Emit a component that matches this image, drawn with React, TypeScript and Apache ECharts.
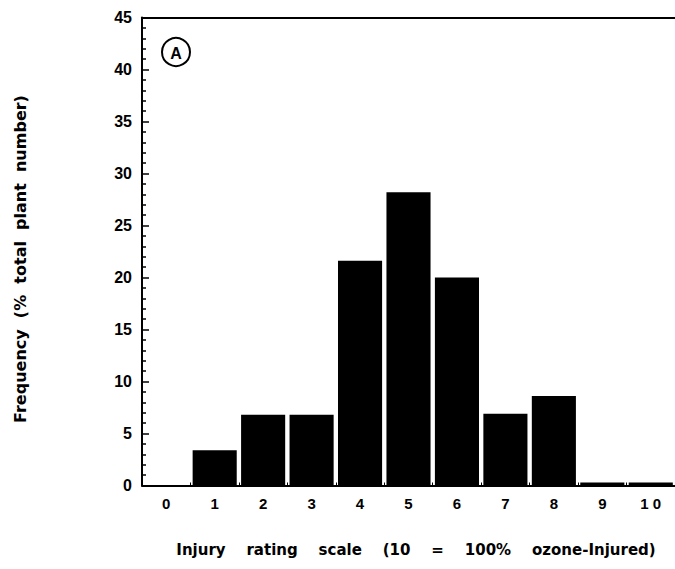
import React, { useEffect, useRef } from "react";
import * as echarts from "echarts";

const categories = ["0", "1", "2", "3", "4", "5", "6", "7", "8", "9", "1 0"];
const frequency = [0, 3.4, 6.8, 6.8, 21.6, 28.2, 20.0, 6.9, 8.6, 0.3, 0.3];
const yTicks = { min: 0, max: 45, interval: 5 };
const xTitle = "Injury    rating    scale    (10    =    100%    ozone-Injured)";
const yTitle = "Frequency  (%  total  plant  number)";
const panelLabel = "A";

const FONT = "'DejaVu Sans', Verdana, sans-serif";
const TICK_FONT = "'Liberation Sans', Arial, Helvetica, sans-serif";

export default function App() {
  const ref = useRef<HTMLDivElement>(null);
  useEffect(() => {
    if (!ref.current) return;
    const chart = echarts.init(ref.current, undefined, { renderer: "svg" });
    chart.setOption({
      animation: false,
      backgroundColor: "#ffffff",
      grid: { left: 142, right: -2, top: 17.5, bottom: 83.5, containLabel: false },
      xAxis: [
        {
          type: "category",
          data: categories,
          position: "bottom",
          axisLine: { show: true, lineStyle: { color: "#000", width: 2 } },
          axisTick: { show: true, inside: true, length: 3, lineStyle: { color: "#000" } },
          axisLabel: {
            color: "#000",
            fontFamily: TICK_FONT,
            fontWeight: "bold",
            fontSize: 15,
            margin: 10,
          },
          splitLine: { show: false },
        },
        {
          type: "category",
          data: categories,
          position: "top",
          axisLine: { show: true, lineStyle: { color: "#000", width: 2 } },
          axisTick: { show: false },
          axisLabel: { show: false },
          splitLine: { show: false },
        },
      ],
      yAxis: {
        type: "value",
        min: yTicks.min,
        max: yTicks.max,
        interval: yTicks.interval,
        axisLine: { show: true, lineStyle: { color: "#000", width: 2 } },
        axisTick: { show: true, inside: true, length: 7, lineStyle: { color: "#000", width: 1.5 } },
        minorTick: { show: true, splitNumber: 5, length: 4, lineStyle: { color: "#000", width: 1.5 } },
        axisLabel: {
          color: "#000",
          fontFamily: TICK_FONT,
          fontWeight: "bold",
          fontSize: 16,
          margin: 10,
        },
        splitLine: { show: false },
      },
      series: [
        {
          type: "bar",
          data: frequency,
          barCategoryGap: "9%",
          itemStyle: { color: "#000" },
        },
      ],
      graphic: [
        {
          type: "text",
          x: 416,
          y: 550,
          style: {
            text: xTitle,
            fill: "#000",
            font: `bold 15px ${FONT}`,
            align: "center",
            verticalAlign: "middle",
          },
        },
        {
          type: "text",
          x: 20,
          y: 259,
          rotation: Math.PI / 2,
          style: {
            text: yTitle,
            fill: "#000",
            font: `bold 16px ${FONT}`,
            align: "center",
            verticalAlign: "middle",
          },
        },
        {
          type: "circle",
          shape: { cx: 176, cy: 52, r: 14 },
          style: { fill: "none", stroke: "#000", lineWidth: 2 },
        },
        {
          type: "text",
          x: 176,
          y: 53,
          style: {
            text: panelLabel,
            fill: "#000",
            font: `bold 16px ${TICK_FONT}`,
            align: "center",
            verticalAlign: "middle",
          },
        },
      ],
    });
    return () => chart.dispose();
  }, []);
  return <div ref={ref} style={{ width: 675, height: 569, position: "absolute", left: 0, top: 0 }} />;
}
